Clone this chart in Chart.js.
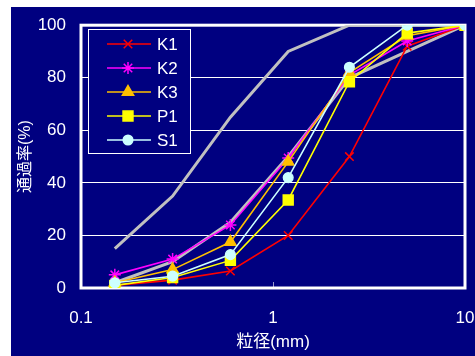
<!DOCTYPE html>
<html>
<head>
<meta charset="utf-8">
<script src="https://cdn.jsdelivr.net/npm/chart.js@4/dist/chart.umd.min.js"></script>
<style>
html,body{margin:0;padding:0;background:#fff;}
#wrap{width:475px;height:356px;}
</style>
</head>
<body>
<div id="wrap"><canvas id="c" width="475" height="356"></canvas></div>
<script>
// sieve sizes (mm)
const sizes = [0.15, 0.3, 0.6, 1.2, 2.5, 5, 10];
// passing percentages
const K1 = [1, 3, 6.5, 20, 50, 92, 100];
const K2 = [5, 11, 24, 49.5, 81, 94, 100];
const K3 = [2, 7, 17.5, 48, 82, 96, 100];
const P1 = [1, 4, 10.5, 33.5, 78.5, 97, 100];
const S1 = [2, 4.5, 12.7, 42, 84, 100, 100];
// grading range (gray)
const upperLimit = [15, 35, 65, 90, 100, 100, 100];
const lowerLimit = [2, 10, 25, 50, 80, 90, 100];
const xTicks = [0.1, 1, 10];
const yTicks = [0, 20, 40, 60, 80, 100];

const FONT = '"Liberation Sans", "Noto Sans CJK JP", Arial, sans-serif';
const pts = arr => sizes.map((s, i) => ({x: s, y: arr[i]}));

function series(label, arr, color, style, radius, fill, order) {
  return {
    label, data: pts(arr), borderColor: color, backgroundColor: fill || color,
    borderWidth: 1.6, pointStyle: style, pointRadius: radius,
    pointBorderColor: color, pointBackgroundColor: fill || color, pointBorderWidth: 1.5,
    tension: 0, order
  };
}

const datasets = [
  series('K1', K1, '#FF0000', 'crossRot', 6, null, 5),
  series('K2', K2, '#FF00FF', 'star', 6, null, 4),
  series('K3', K3, '#FFC000', 'triangle', 6.5, null, 3),
  series('P1', P1, '#FFFF00', 'rect', 7, null, 2),
  series('S1', S1, '#CCFFFF', 'circle', 4.8, null, 1),
  {label: '_upper', data: pts(upperLimit), borderColor: '#C0C0C0', borderWidth: 3, pointRadius: 0, order: 6, tension: 0},
  {label: '_lower', data: pts(lowerLimit), borderColor: '#C0C0C0', borderWidth: 3, pointRadius: 0, order: 7, tension: 0}
];

const bgPlugin = {
  id: 'bg',
  beforeDraw(chart) {
    const ctx = chart.ctx;
    ctx.save();
    ctx.fillStyle = '#ffffff';
    ctx.fillRect(0, 0, chart.width, chart.height);
    ctx.fillStyle = '#000080';
    ctx.fillRect(11, 7, chart.width - 11, chart.height - 7);
    ctx.restore();
  },
  beforeDatasetsDraw(chart) {
    const ctx = chart.ctx, a = chart.chartArea;
    ctx.save();
    const xs = chart.scales.x;
    ctx.strokeStyle = '#9999cc';
    ctx.lineWidth = 1;
    const px = Math.round(xs.getPixelForValue(1)) + 0.5;
    ctx.beginPath(); ctx.moveTo(px, a.bottom); ctx.lineTo(px, a.bottom - 6); ctx.stroke();
    ctx.strokeStyle = '#ffffff';
    ctx.lineWidth = 3;
    ctx.strokeRect(a.left, a.top, a.right - a.left, a.bottom - a.top);
    ctx.restore();
  },
  afterDraw(chart) {
    const ctx = chart.ctx;
    const items = chart.data.datasets.filter(d => !d.label.startsWith('_'));
    const bx = 88, by = 29, bw = 102, bh = 124;
    ctx.save();
    ctx.fillStyle = '#000080';
    ctx.fillRect(bx, by, bw, bh);
    ctx.strokeStyle = '#ffffff';
    ctx.lineWidth = 1;
    ctx.strokeRect(bx + 0.5, by + 0.5, bw, bh);
    items.forEach((d, i) => {
      const y = by + 15 + i * 24;
      ctx.strokeStyle = d.borderColor;
      ctx.lineWidth = 1.6;
      ctx.beginPath(); ctx.moveTo(107, y); ctx.lineTo(151, y); ctx.stroke();
      ctx.fillStyle = d.pointBackgroundColor;
      ctx.strokeStyle = d.pointBorderColor;
      ctx.lineWidth = d.pointBorderWidth;
      Chart.helpers.drawPoint(ctx, {
        pointStyle: d.pointStyle, radius: d.pointRadius, rotation: 0,
        borderWidth: d.pointBorderWidth
      }, 128, y);
      ctx.fillStyle = '#ffffff';
      ctx.font = '17px ' + FONT;
      ctx.textAlign = 'left';
      ctx.textBaseline = 'middle';
      ctx.fillText(d.label, 157, y + 1);
    });
    ctx.restore();
  }
};

new Chart(document.getElementById('c'), {
  type: 'line',
  data: {datasets},
  plugins: [bgPlugin],
  options: {
    responsive: false,
    animation: false,
    devicePixelRatio: 1,
    layout: {padding: {left: 11, top: 21, right: 10, bottom: 1}},
    plugins: {legend: {display: false}, tooltip: {enabled: false}},
    scales: {
      x: {
        type: 'logarithmic', min: 0.1, max: 10,
        afterBuildTicks: s => { s.ticks = xTicks.map(v => ({value: v})); },
        afterFit: s => { s.height = 67; },
        grid: {display: true, drawOnChartArea: false, drawTicks: true, tickLength: 20, tickColor: 'rgba(0,0,0,0)'},
        border: {display: false},
        ticks: {color: '#ffffff', font: {family: FONT, size: 17}, padding: 0, maxRotation: 0,
                callback: v => String(v)},
        title: {display: true, text: '粒径(mm)', color: '#ffffff', font: {family: FONT, size: 17}, padding: {top: 0, bottom: 2}}
      },
      y: {
        min: 0, max: 100,
        afterBuildTicks: s => { s.ticks = yTicks.map(v => ({value: v})); },
        afterFit: s => { s.width = 70; },
        grid: {color: '#ffffff', lineWidth: 1, drawTicks: false},
        border: {display: false},
        ticks: {color: '#ffffff', font: {family: FONT, size: 17}, padding: 15},
        title: {display: true, text: '通過率(%)', color: '#ffffff', font: {family: FONT, size: 16}, padding: {top: 5, bottom: 0}}
      }
    }
  }
});
</script>
</body>
</html>
